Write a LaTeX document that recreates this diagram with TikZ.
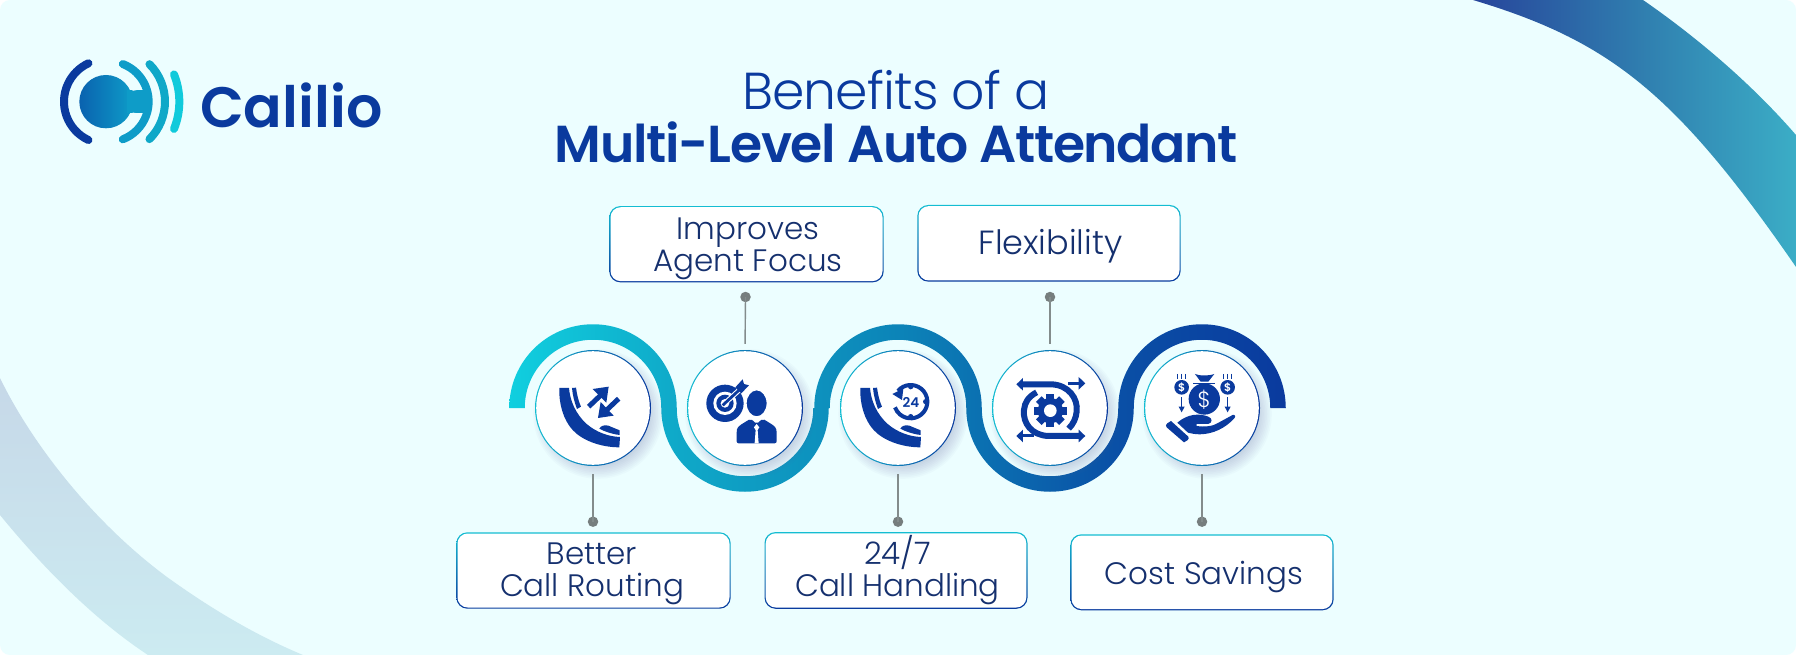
\documentclass[tikz,border=0pt]{standalone}
\usepackage{fontspec}
\setmainfont{Poppins}
\newfontfamily\lightf{Poppins Light}
\newfontfamily\medf{Poppins SemiBold}
\newfontfamily\titlelight[LetterSpace=-1.7]{Poppins Light}
\newfontfamily\titlebold[LetterSpace=-2.5]{Poppins SemiBold}
\usetikzlibrary{calc,shapes.geometric}
\definecolor{bgc}{HTML}{ECFEFF}
\definecolor{navy}{HTML}{0A3A9E}
\definecolor{txt}{HTML}{15306E}
\definecolor{tealc}{HTML}{14BDD2}
\definecolor{conn}{HTML}{838C8C}
\definecolor{ribA}{HTML}{10CFDF}
\definecolor{HTMLa}{HTML}{0FA8C8}
\definecolor{HTMLb}{HTML}{0C84B8}
\definecolor{HTMLc}{HTML}{0A50A6}
\definecolor{arcA}{HTML}{27459B}
\definecolor{arcB}{HTML}{3080B0}
\definecolor{arcC}{HTML}{3BADC6}
\definecolor{blA}{HTML}{C6D8E8}
\definecolor{blB}{HTML}{CCEBF1}
\definecolor{lgA}{HTML}{0A62AF}
\definecolor{lgB}{HTML}{0E9CC8}
\pgfdeclarehorizontalshading{ribbon}{100bp}{color(0bp)=(ribA);color(25bp)=(ribA);color(36bp)=(HTMLa);color(50bp)=(HTMLb);color(64bp)=(HTMLc);color(75bp)=(navy);color(100bp)=(navy)}
\pgfdeclarehorizontalshading{arcshade}{100bp}{color(0bp)=(arcA);color(25bp)=(arcA);color(52bp)=(arcB);color(75bp)=(arcC);color(100bp)=(arcC)}
\tikzset{
  ringnode/.style={circle,inner sep=0pt,minimum size=116pt,left color=tealc,right color=navy},
  discnode/.style={circle,inner sep=0pt,minimum size=113.6pt,fill=white},
  boxborder/.style={rectangle,rounded corners=11pt,inner sep=0pt,top color=tealc,bottom color=navy},
  boxface/.style={rectangle,rounded corners=10.2pt,inner sep=0pt,fill=white},
  boxtext/.style={inner sep=0pt,text=txt,align=center,font=\lightf\fontsize{31}{32}\selectfont},
  dotnode/.style={circle,inner sep=0pt,minimum size=10.5pt,fill=conn!90!black},
  connector/.style={draw=conn,line width=1.4pt},
}
\newcommand{\softshadow}[2]{%
  \foreach \k in {0,1,...,8}{\fill[black!60!blue!60!white,opacity=.032] (#1+5,#2+6) circle[radius=52+\k*1.6];}}
\newcommand{\benefit}[7]{% id, bx,by,w,h, text position, text
  \node[boxborder,minimum width=#4pt,minimum height=#5pt] (b#1) at (#2,#3) {};
  \node[boxface,minimum width=#4pt-2.4pt,minimum height=#5pt-2.4pt] (t#1) at (#2,#3) {};
  \node[boxtext] (l#1) at (#6) {#7};
}
\newcommand{\handset}{%
  \fill[navy] (238,264) -- (267,264) .. controls (270,300) and (285,340) .. (320,372)
     .. controls (348,396) and (385,410) .. (420,411) -- (418,442)
     .. controls (360,442) and (305,420) .. (278,390) .. controls (250,360) and (236,310) .. (238,264) -- cycle;
  \fill[navy] (276,264) -- (288,263) .. controls (291,285) and (296,305) .. (303,320) -- (291,327) .. controls (283,306) and (278,285) .. (276,264) -- cycle;
  \fill[navy] (358,386) .. controls (362,377) and (375,374) .. (385,377) -- (419,391) -- (419,405) .. controls (395,402) and (375,395) .. (358,386) -- cycle;
}
\begin{document}
\begin{tikzpicture}[x=1pt,y=-1pt]
\useasboundingbox (0,0) rectangle (1796,655);
\fill[white] (0,0) rectangle (1796,655);
\fill[bgc,rounded corners=10pt] (0,0) rectangle (1796,655);
% top right arc
\shade[shading=arcshade] (1473,0) -- (1643,0) .. controls (1695,36) and (1750,82) .. (1796,135)
   -- (1796,267) .. controls (1675,91.7) and (1608.6,40.7) .. (1473,0) -- cycle;
% bottom left arc
\shade[top color=blA,bottom color=blB] (0,378) .. controls (30,440) and (90,520) .. (167,577)
  .. controls (210,608) and (255,635) .. (303,655) -- (148,655)
  .. controls (95,620) and (45,570) .. (0,515) -- cycle;
% logo
\begin{scope}[shift={(40,40)},x=0.3333pt,y=-0.3333pt]
  \shade[left color=lgA,right color=lgB] (198,185) circle[radius=80];
  \fill[lgB] (262,150) rectangle (322,220);
  \draw[lgB,line width=8pt,line cap=round] ($(205,185)+(-69:121)$) arc[start angle=-69,end angle=69,radius=121];
  \draw[bgc,line width=9.4pt,line cap=round] ($(198,185)+(-29:96)$) arc[start angle=-29,end angle=-100,radius=96];
  \draw[bgc,line width=9.4pt,line cap=round] ($(198,185)+(29:96)$) arc[start angle=29,end angle=100,radius=96];
  \draw[navy,line width=8pt,line cap=round] ($(199,185)+(115:127)$) arc[start angle=115,end angle=245,radius=127];
  \draw[HTMLa,line width=8pt,line cap=round] ($(216,185)+(-45:159)$) arc[start angle=-45,end angle=45,radius=159];
  \draw[tealc!80!cyan,line width=8pt,line cap=round] ($(200,185)+(-22:218)$) arc[start angle=-22,end angle=22,radius=218];
\end{scope}
\node[anchor=base west,inner sep=0pt,text=navy,font=\medf\fontsize{57}{60}\selectfont] (logo) at (200,128) {Calilio};
% title
\node[anchor=base,inner sep=0pt,text=navy,font=\titlelight\fontsize{52}{60}\selectfont] (title1) at (896,110) {Benefits of a};
\node[anchor=base,inner sep=0pt,text=navy,font=\titlebold\fontsize{52}{60}\selectfont] (title2) at (896.5,163) {Multi-Level Auto Attendant};
% ribbon
\shade[shading=ribbon] (509.25,408) arc[start angle=180,end angle=360,radius=83.75]
  arc[start angle=180,end angle=0,radius=68.25] -- ++(1,0)
  arc[start angle=180,end angle=360,radius=83.75]
  arc[start angle=180,end angle=0,radius=68.25]
  arc[start angle=180,end angle=360,radius=83.75]
  -- (1270.25,408)
  arc[start angle=360,end angle=180,radius=68.25]
  arc[start angle=0,end angle=180,radius=83.75]
  arc[start angle=360,end angle=180,radius=68.25] -- ++(-1,0)
  arc[start angle=0,end angle=180,radius=83.75]
  arc[start angle=360,end angle=180,radius=68.25] -- cycle;
% circles
\foreach \cx in {593,745,898,1050,1202}{\softshadow{\cx}{408}}
\foreach \id/\cx in {1/593,2/745,3/898,4/1050,5/1202}{
  \node[ringnode] (r\id) at (\cx,408) {};
  \node[discnode] (c\id) at (\cx,408) {};
}
% boxes
\benefit{1}{593.5}{570.5}{274.4}{76.4}{592,573.9}{Better\\Call Routing}
\benefit{2}{746.5}{244.2}{274.4}{76.3}{748,248.7}{Improves\\Agent Focus}
\benefit{3}{896}{570.4}{263}{76.7}{897.5,570.4}{24/7\\Call Handling}
\benefit{4}{1049}{243.3}{263.4}{76.7}{1050.5,245.8}{\fontsize{33.5}{34}\selectfont Flexibility}
\benefit{5}{1202}{572.3}{263.3}{76}{1204,576.8}{Cost Savings}
% connectors
\node[dotnode] (d1) at (593,521.7) {};
\node[dotnode] (d2) at (745.5,297) {};
\node[dotnode] (d3) at (898,521.7) {};
\node[dotnode] (d4) at (1050,297) {};
\node[dotnode] (d5) at (1202,521.7) {};
\draw[connector,shorten >=8pt] (d1.center) -- (r1.south);
\draw[connector,shorten >=6pt] (d2.center) -- (r2.north);
\draw[connector,shorten >=8pt] (d3.center) -- (r3.south);
\draw[connector,shorten >=6pt] (d4.center) -- (r4.north);
\draw[connector,shorten >=8pt] (d5.center) -- (r5.south);
% icon 1
\begin{scope}[shift={(480,300)},x=0.3333pt,y=-0.3333pt]
  \handset
  \draw[navy,line width=5pt] (326,320) -- (366,282);
  \fill[navy] (338,267) -- (386,260) -- (379,308) -- cycle;
  \draw[navy,line width=5pt] (416,296) -- (376,334);
  \fill[navy] (362,306) -- (354,354) -- (401,347) -- cycle;
\end{scope}
% icon 2
\begin{scope}[shift={(480,300)},x=0.3333pt,y=-0.3333pt]
  \fill[navy] (735,310) circle[radius=56];
  \fill[white] (735,310) circle[radius=35];
  \fill[navy] (735,310) circle[radius=26];
  \fill[white] (735,310) circle[radius=13];
  \draw[white,line width=5pt] (728,316) -- (780,268);
  \draw[navy,line width=2.8pt] (728,316) -- (782,266);
  \fill[navy] (766,262) -- (788,238) -- (792,252) -- (807,256) -- (784,280) -- cycle;
  \fill[navy,draw=white,line width=1.4pt] (830,310) ellipse[x radius=32,y radius=41];
  \fill[navy,rounded corners=2pt] (770,430) -- (770,395) .. controls (772,378) and (790,370) .. (812,356)
     -- (830,372) -- (848,356) .. controls (870,370) and (888,378) .. (890,395) -- (890,430) -- cycle;
  \fill[white] (830,372) -- (838,382) -- (833,390) -- (836,430) -- (824,430) -- (827,390) -- (822,382) -- cycle;
\end{scope}
% icon 3
\begin{scope}[shift={(781,300)},x=0.3333pt,y=-0.3333pt]
  \handset
\end{scope}
\begin{scope}[shift={(880,300)},x=0.3333pt,y=-0.3333pt]
  \draw[navy,line width=4pt] ($(92,305)+(-140:50)$) arc[start angle=-140,end angle=160,radius=50];
  \fill[navy] (37,282) -- (70,266) -- (66,300) -- cycle;
  \foreach \a in {-90,0,90}{\fill[navy] ($(92,305)+(\a:45)$) circle[radius=8];}
  \node[text=navy,font=\medf\fontsize{13.5}{13.5}\selectfont,inner sep=0pt] (clock) at (93,306) {24};
\end{scope}
% icon 4
\begin{scope}[shift={(880,300)},x=0.3333pt,y=-0.3333pt]
  \draw[navy,line width=6pt] (422,253) -- (515,253) .. controls (565,255) and (595,295) .. (590,335) .. controls (588,355) and (580,372) .. (566,386);
  \draw[navy,line width=6pt] (605,408) -- (505,408) .. controls (455,406) and (428,370) .. (432,330) .. controls (434,308) and (445,290) .. (470,277);
  \draw[navy,line width=3pt] (565,250) -- (600,250);
  \draw[navy,line width=3pt] (462,408) -- (425,408);
  \foreach \x/\y/\s in {409/253/1,616/250/-1,616/408/-1,409/408/1}{
    \fill[navy] (\x,\y) -- (\x+\s*20,\y-19) -- (\x+\s*20,\y+19) -- cycle;}
  \foreach \a in {0,45,...,315}{\fill[navy,rotate around={\a:(511,332)}] (499,283) rectangle (523,300);}
  \fill[navy] (511,332) circle[radius=38];
  \fill[white] (511,332) circle[radius=19];
\end{scope}
% icon 5
\begin{scope}[shift={(880,300)},x=0.3333pt,y=-0.3333pt]
  \fill[navy] (973,297) circle[radius=47];
  \fill[navy] (945,222) .. controls (958,228) and (988,228) .. (1003,222) -- (985,245) -- (962,245) -- cycle;
  \draw[navy,line width=1.4pt] (940,250) -- (1006,250);
  \node[text=white,font=\lightf\fontsize{22}{22}\selectfont,inner sep=0pt] (bagd) at (973,299) {\$};
  \foreach \id/\x in {a/905,b/1043}{
    \fill[navy] (\x,262) circle[radius=22];
    \node[text=white,font=\medf\fontsize{11}{11}\selectfont,inner sep=0pt] (coin\id) at (\x,263) {\$};
    \draw[navy,line width=1.4pt] (\x,292) -- (\x,325);
    \fill[navy] (\x-9,320) -- (\x+9,320) -- (\x,337) -- cycle;
    \foreach \d in {-12,0,12}{\draw[navy,line width=1.2pt] (\x+\d,222) -- (\x+\d,236);}
  }
  \fill[navy] (873,363) -- (925,410) .. controls (928,414) and (926,418) .. (922,421) -- (912,427) -- (860,382) .. controls (856,378) and (858,373) .. (862,370) -- cycle;
  \fill[navy] (892,368) .. controls (925,340) and (960,340) .. (985,350) .. controls (998,355) and (998,368) .. (985,372) -- (950,372) -- (950,378)
     .. controls (975,382) and (1000,378) .. (1012,370) -- (1058,345) .. controls (1066,343) and (1068,350) .. (1062,356)
     .. controls (1035,385) and (1000,402) .. (960,403) .. controls (945,403) and (932,400) .. (924,398) -- cycle;
\end{scope}
\end{tikzpicture}
\end{document}
